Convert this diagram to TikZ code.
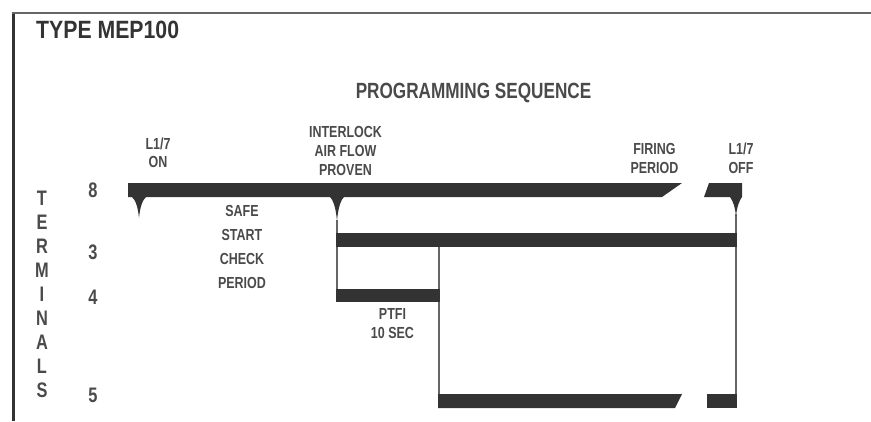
\documentclass[tikz,border=0pt]{standalone}
\usepackage{fontspec}
\newfontfamily\cond{Liberation Sans}[FakeStretch=0.78]
\newfontfamily\condt{Liberation Sans}[FakeStretch=0.85]
\definecolor{ink}{HTML}{333333}
\definecolor{txt}{HTML}{4a4a4a}
\definecolor{thin}{HTML}{666666}
\tikzset{
  lbl/.style={font=\cond\bfseries\fontsize{16}{16}\selectfont, text=txt, anchor=base, inner sep=0pt},
  term/.style={font=\cond\bfseries\fontsize{21}{21}\selectfont, text=txt, anchor=base, inner sep=0pt},
  barfill/.style={fill=ink, draw=none},
  thinline/.style={draw=thin, line width=1.6pt},
}
\begin{document}
\begin{tikzpicture}[x=1pt,y=-1pt]
\useasboundingbox (0,0) rectangle (871,421);
% frame
\draw[draw=ink, line width=3pt] (13,421) -- (13,12.5);
\draw[draw=thin, line width=2pt] (11.5,12.5) -- (871,12.5);
% titles
\node[font=\condt\bfseries\fontsize{25}{25}\selectfont, text=ink, anchor=base west, inner sep=0pt] (title) at (36,38) {TYPE MEP100};
\node[font=\cond\bfseries\fontsize{22}{22}\selectfont, text=txt, anchor=base, inner sep=0pt] (seq) at (473.5,98) {PROGRAMMING SEQUENCE};
% upper labels
\node[lbl] (on1) at (158,149) {L1/7};
\node[lbl] (on2) at (158,167) {ON};
\node[lbl] (il1) at (345.5,137) {INTERLOCK};
\node[lbl] (il2) at (345.5,156) {AIR FLOW};
\node[lbl] (il3) at (345.5,175) {PROVEN};
\node[lbl] (fp1) at (654.5,154) {FIRING};
\node[lbl] (fp2) at (654.5,173) {PERIOD};
\node[lbl] (off1) at (741,154) {L1/7};
\node[lbl] (off2) at (741,173) {OFF};
% safe start
\node[lbl] (ss1) at (242,216) {SAFE};
\node[lbl] (ss2) at (242,240) {START};
\node[lbl] (ss3) at (242,264) {CHECK};
\node[lbl] (ss4) at (242,288) {PERIOD};
\node[lbl] (pt1) at (392.5,319) {PTFI};
\node[lbl] (pt2) at (392.5,338) {10 SEC};
% terminals
\foreach \ch [count=\i from 0] in {T,E,R,M,I,N,A,L,S}
  \node[term] (t\i) at (42,205+24*\i) {\ch};
\node[term] (n8) at (93,197) {8};
\node[term] (n3) at (93,259) {3};
\node[term] (n4) at (93,304) {4};
\node[term] (n5) at (93,402) {5};
% coordinates
\coordinate (p8tip) at (337,220);
\coordinate (p4bot) at (337,302);
\coordinate (q3bot) at (439,247);
\coordinate (q5bot) at (439,408);
\coordinate (offtip) at (736,214);
\coordinate (r5bot) at (736,408);
% thin lines
\draw[thinline] (p8tip) -- (p4bot);
\draw[thinline] (q3bot) -- (q5bot);
\draw[thinline] (offtip) -- (r5bot);
% terminal 8 bars
\fill[barfill] (128,183) -- (682,183) -- (662,197) -- (128,197) -- cycle;
\fill[barfill] (709,183) -- (742,183) -- (742,197)
   .. controls (739,201) and (737,207) .. (736,216)
   .. controls (735,207) and (733,201) .. (730,197) -- (704,197) -- cycle;
% pointers under bar 8
\fill[barfill] (131,196) .. controls (136,200) and (138,208) .. (139,218)
   .. controls (140,208) and (142,200) .. (147,196) -- cycle;
\fill[barfill] (329,196) .. controls (334,200) and (336,210) .. (337,221)
   .. controls (338,210) and (340,200) .. (345,196) -- cycle;
% terminal 3
\fill[barfill] (336,233) rectangle (736.8,247);
% terminal 4
\fill[barfill] (336,289) rectangle (439.8,302);
% terminal 5
\fill[barfill] (438.2,394) -- (682,394) -- (675,408) -- (438.2,408) -- cycle;
\fill[barfill] (707,394) -- (736.8,394) -- (736.8,408) -- (707,408) -- cycle;
\end{tikzpicture}
\end{document}
